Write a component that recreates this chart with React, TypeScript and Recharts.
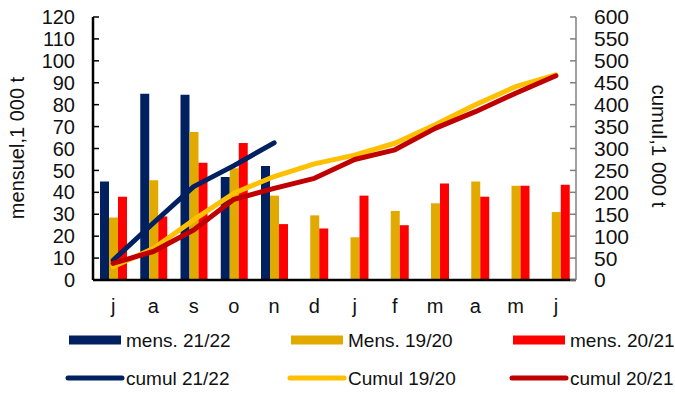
import React from 'react';
import { ComposedChart, Bar, Line, XAxis, YAxis } from 'recharts';

const months = ['j', 'a', 's', 'o', 'n', 'd', 'j', 'f', 'm', 'a', 'm', 'j'];
const mens2122 = [45, 85, 84.5, 47, 52, null, null, null, null, null, null, null];
const mens1920 = [28.5, 45.5, 67.5, 51, 38.5, 29.5, 19.5, 31.5, 35, 45, 43, 31];
const mens2021 = [38, 29, 53.5, 62.5, 25.5, 23.5, 38.5, 25, 44, 38, 43, 43.5];
const cumul2122 = [45, 130, 213, 261, 313, null, null, null, null, null, null, null];
const cumul1920 = [30, 72, 137, 198, 236, 265, 285, 312, 354, 400, 441, 468];
const cumul2021 = [38, 65, 114, 184, 209, 232, 275, 297, 346, 384, 426, 466];

const leftTicks = [0, 10, 20, 30, 40, 50, 60, 70, 80, 90, 100, 110, 120];
const rightTicks = [0, 50, 100, 150, 200, 250, 300, 350, 400, 450, 500, 550, 600];

const barSeries = [
  { key: 'm2122', name: 'mens. 21/22', color: '#002060' },
  { key: 'm1920', name: 'Mens. 19/20', color: '#E2AA00' },
  { key: 'm2021', name: 'mens. 20/21', color: '#FF0000' },
];
const lineSeries = [
  { key: 'c2122', name: 'cumul 21/22', color: '#002060' },
  { key: 'c1920', name: 'Cumul 19/20', color: '#FFC000' },
  { key: 'c2021', name: 'cumul 20/21', color: '#C00000' },
];

const data = months.map((m, i) => ({
  idx: i,
  m2122: mens2122[i],
  m1920: mens1920[i],
  m2021: mens2021[i],
  c2122: cumul2122[i],
  c1920: cumul1920[i],
  c2021: cumul2021[i],
}));

const FONT = '"Liberation Sans", Arial, sans-serif';
const TXT = '#111';

export default function App() {
  return (
    <div style={{ position: 'absolute', left: 0, top: 0, width: 675, height: 394, background: '#fff', fontFamily: FONT }}>
      <ComposedChart
        width={675}
        height={320}
        data={data}
        margin={{ top: 17, right: 0, bottom: 0, left: 0 }}
        barGap={0}
      >
        <XAxis
          dataKey="idx"
          type="category"
          tickFormatter={(v: number) => months[v]}
          axisLine={{ stroke: '#000', strokeWidth: 2.5 }}
          tickLine={false}
          tickSize={0}
          tickMargin={19}
          height={40}
          interval={0}
          tick={{ fill: TXT, fontSize: 20, fontFamily: FONT }}
        />
        <YAxis
          yAxisId="left"
          orientation="left"
          width={93}
          domain={[0, 120]}
          ticks={leftTicks}
          interval={0}
          axisLine={{ stroke: '#000', strokeWidth: 2.5 }}
          tickLine={{ stroke: '#000', strokeWidth: 1.5 }}
          tickSize={-6}
          tickMargin={24}
          tick={{ fill: TXT, fontSize: 20, fontFamily: FONT }}
          label={{
            content: () => (
              <text
                transform="translate(17,148) rotate(-90)"
                textAnchor="middle"
                dominantBaseline="central"
                fill={TXT}
                fontSize={20}
                fontFamily={FONT}
              >
                mensuel,1 000 t
              </text>
            ),
          }}
        />
        <YAxis
          yAxisId="right"
          orientation="right"
          width={99}
          domain={[0, 600]}
          ticks={rightTicks}
          interval={0}
          axisLine={{ stroke: '#808080', strokeWidth: 1.5 }}
          tickLine={{ stroke: '#808080', strokeWidth: 1.5 }}
          tickSize={-6}
          tickMargin={24}
          tick={{ fill: TXT, fontSize: 21, fontFamily: FONT }}
          label={{
            content: () => (
              <text
                transform="translate(659,146) rotate(90)"
                textAnchor="middle"
                dominantBaseline="central"
                fill={TXT}
                fontSize={20.5}
                fontFamily={FONT}
              >
                cumul,1 000 t
              </text>
            ),
          }}
        />
        {barSeries.map((s) => (
          <Bar
            key={s.key}
            yAxisId="left"
            dataKey={s.key}
            name={s.name}
            fill={s.color}
            barSize={9}
            isAnimationActive={false}
          />
        ))}
        {lineSeries.map((s) => (
          <Line
            key={s.key}
            yAxisId="right"
            type="linear"
            dataKey={s.key}
            name={s.name}
            stroke={s.color}
            strokeWidth={5}
            strokeLinecap="round"
            strokeLinejoin="round"
            dot={false}
            activeDot={false}
            connectNulls={false}
            isAnimationActive={false}
          />
        ))}
      </ComposedChart>
      <svg width={675} height={74} style={{ position: 'absolute', left: 0, top: 320 }}>
        {barSeries.map((s, i) => {
          const x0 = 69 + i * 222;
          return (
            <g key={s.key}>
              <rect x={x0} y={15.5} width={52} height={9} fill={s.color} />
              <text x={x0 + 57} y={20} dominantBaseline="central" fontSize={19} fontFamily={FONT} fill={TXT}>
                {s.name}
              </text>
            </g>
          );
        })}
        {lineSeries.map((s, i) => {
          const x0 = 69 + i * 222;
          return (
            <g key={s.key}>
              <line x1={x0 - 1} x2={x0 + 53} y1={58} y2={58} stroke={s.color} strokeWidth={5} strokeLinecap="round" />
              <text x={x0 + 57} y={58} dominantBaseline="central" fontSize={19} fontFamily={FONT} fill={TXT}>
                {s.name}
              </text>
            </g>
          );
        })}
      </svg>
    </div>
  );
}
